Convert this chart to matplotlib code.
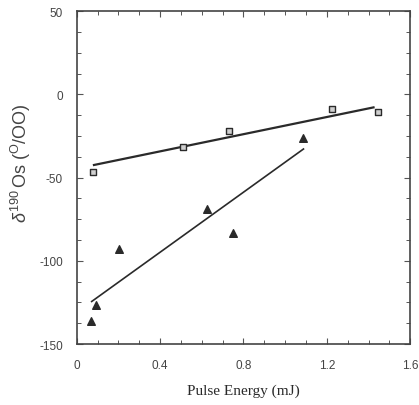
from matplotlib import pyplot as plt, ticker

# squares series
sq_energy = [0.08, 0.51, 0.73, 1.227, 1.445]
sq_delta = [-46.4, -31.8, -22.0, -8.8, -10.8]
sq_fit_x = [0.083, 1.424]
sq_fit_y = [-42.4, -7.8]

# triangles series
tri_energy = [0.069, 0.093, 0.203, 0.627, 0.749, 1.088]
tri_delta = [-136.4, -126.4, -92.8, -68.8, -83.4, -26.4]
tri_fit_x = [0.072, 1.088]
tri_fit_y = [-124.4, -32.8]

x_ticks = [0, 0.4, 0.8, 1.2, 1.6]
x_labels = ['0', '0.4', '0.8', '1.2', '1.6']
y_ticks = [50, 0, -50, -100, -150]


def main():
    plt.rcParams['axes.unicode_minus'] = False
    plt.rcParams['font.family'] = 'Liberation Sans'
    plt.rcParams['mathtext.fontset'] = 'custom'
    plt.rcParams['mathtext.rm'] = 'Liberation Sans'
    plt.rcParams['mathtext.it'] = 'Liberation Sans:italic'

    fig = plt.figure(figsize=(4.19, 4.06), dpi=100)
    ax = fig.add_axes([0.183, 0.150, 0.796, 0.820])

    ink = '#2a2a2a'
    ax.plot(sq_fit_x, sq_fit_y, color=ink, lw=1.6)
    ax.plot(tri_fit_x, tri_fit_y, color=ink, lw=1.2)
    ax.scatter(sq_energy, sq_delta, marker='s', s=16, facecolor='#cfcfcf',
               edgecolor=ink, linewidths=1.0, zorder=3)
    ax.scatter(tri_energy, tri_delta, marker='^', s=30, color=ink, zorder=3)

    ax.set_xlim(0, 1.6)
    ax.set_ylim(-150, 50)
    ax.set_xticks(x_ticks)
    ax.set_xticklabels(x_labels)
    ax.set_yticks(y_ticks)
    ax.xaxis.set_minor_locator(ticker.MultipleLocator(0.1))
    ax.yaxis.set_minor_locator(ticker.MultipleLocator(12.5))

    ax.tick_params(which='both', direction='in', top=True, right=True,
                   color='#555555')
    ax.tick_params(which='major', length=4, width=0.8)
    ax.tick_params(which='minor', length=3, width=0.7)
    ax.tick_params(axis='x', which='major', pad=11, labelsize=8.5, labelcolor='#444444')
    ax.tick_params(axis='y', which='major', pad=10, labelsize=8.5, labelcolor='#444444')

    for sp in ax.spines.values():
        sp.set_color('#444444')
        sp.set_linewidth(1.2)

    ax.set_xlabel('Pulse Energy (mJ)', family='Liberation Serif', fontsize=11,
                  color=ink, labelpad=9)
    ax.set_ylabel(r'$\delta^{190}\,$Os ($^{\rm O}$/OO)', fontsize=13,
                  color='#444444')
    ax.yaxis.set_label_coords(-0.13, 0.547)

    fig.savefig('out.png', dpi=100)


if __name__ == '__main__':
    main()
